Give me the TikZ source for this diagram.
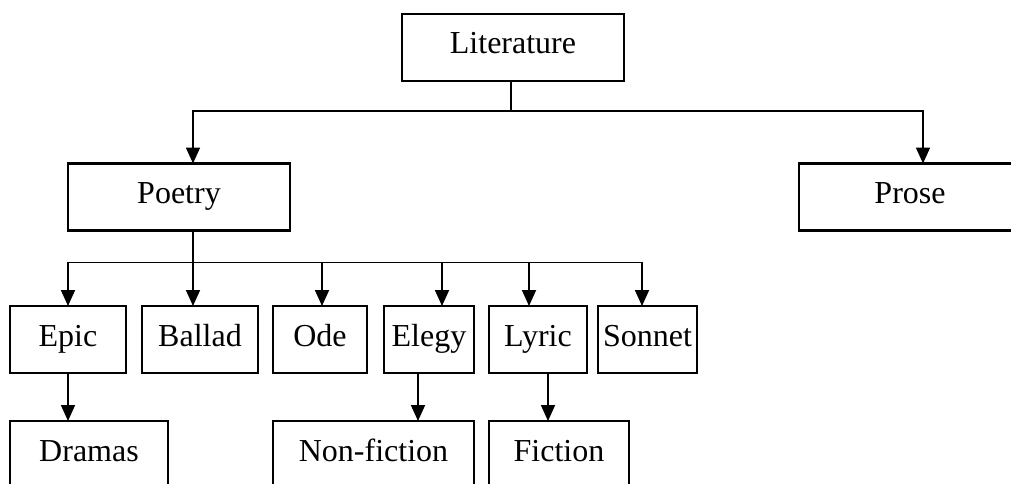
\documentclass[tikz,border=0pt]{standalone}
\usepackage{fontspec}
\setmainfont{Liberation Serif}
\usepackage{tikz}
\usetikzlibrary{arrows.meta}
\usetikzlibrary{calc}

\begin{document}
\begin{tikzpicture}[x=1pt,y=-1pt,
  box/.style={draw,line width=2.1pt,inner sep=0pt,outer sep=0pt,minimum height=67pt,
    text height=21pt,text depth=8pt,font=\fontsize{32pt}{38pt}\selectfont},
  link/.style={line width=1.8pt,-{Triangle[length=16pt,width=14pt]}}]
  \clip (0,0) rectangle (1011,484);
  \node[box,minimum width=222pt] (lit) at (513,47.5) {Literature};
  \node[box,minimum width=222pt] (poetry) at (179,197) {Poetry};
  \node[box,minimum width=222pt] (prose) at (910,197) {Prose};
  \node[box,minimum width=116pt] (epic) at (68,339.5) {Epic};
  \node[box,minimum width=116pt] (ballad) at (200,339.5) {Ballad};
  \node[box,minimum width=94pt] (ode) at (320,339.5) {Ode};
  \node[box,minimum width=90pt] (elegy) at (429,339.5) {Elegy};
  \node[box,minimum width=98pt] (lyric) at (538,339.5) {Lyric};
  \node[box,minimum width=99pt] (sonnet) at (647.5,339.5) {Sonnet};
  \node[box,minimum width=158pt] (dramas) at (89,454.5) {Dramas};
  \node[box,minimum width=201pt] (nonfic) at (373.5,454.5) {Non-fiction};
  \node[box,minimum width=140pt] (fiction) at (559,454.5) {Fiction};
  % literature to its two kinds
  \draw[link] ([xshift=-2pt]lit.south) -- ++(0,30) -| ([xshift=14pt]poetry.north);
  \draw[link] ([xshift=-2pt]lit.south) -- ++(0,30) -| ([xshift=13pt]prose.north);
  % kinds of poetry
  \foreach \kid/\dx in {epic/0,ballad/-7,ode/2,elegy/13,lyric/-9,sonnet/-5.5}
    \draw[link] ([xshift=14pt]poetry.south) -- ++(0,32) -| ([xshift=\dx pt]\kid.north);
  % third row
  \draw[link] (epic.south) -- (epic.south |- dramas.north);
  \draw[link] ([xshift=-11pt]elegy.south) -- ([xshift=-11pt]elegy.south |- nonfic.north);
  \draw[link] ([xshift=10pt]lyric.south) -- ([xshift=10pt]lyric.south |- fiction.north);
\end{tikzpicture}
\end{document}
